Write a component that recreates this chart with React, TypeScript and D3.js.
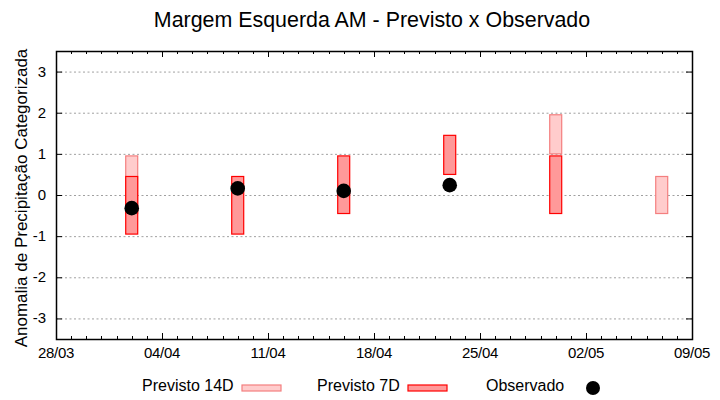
import { useRef, useEffect } from "react";
import * as d3 from "d3";

// ── Data ──────────────────────────────────────────────────────────────────────

const DATES = ["2025-04-02", "2025-04-09", "2025-04-16", "2025-04-23", "2025-04-30", "2025-05-07"];

// Previsto 14D range (low, high); null when not shown
const P14_LOW: (number | null)[] = [-0.45, null, null, null, 1.0, -0.45];
const P14_HIGH: (number | null)[] = [0.95, null, null, null, 1.95, 0.45];

// Previsto 7D range
const P7_LOW: (number | null)[] = [-0.95, -0.95, -0.45, 0.5, -0.45, null];
const P7_HIGH: (number | null)[] = [0.45, 0.45, 0.95, 1.45, 0.95, null];

// Observado
const OBS: (number | null)[] = [-0.32, 0.16, 0.1, 0.24, null, null];

const X_DOMAIN = ["2025-03-28", "2025-05-09"];
const Y_TICKS = [-3, -2, -1, 0, 1, 2, 3];

const TITLE = "Margem Esquerda AM - Previsto x Observado";
const Y_LABEL = "Anomalia de Precipitação Categorizada";
const LEGEND = ["Previsto 14D", "Previsto 7D", "Observado"];

// ── Constants ─────────────────────────────────────────────────────────────────

const W = 720;
const H = 400;
const PLOT = { left: 56, right: 692, top: 51, bottom: 339 };
const FONT = "'Liberation Sans', Arial, sans-serif";

const C14 = { fill: "#ffcccc", stroke: "#f47f7f" };
const C7 = { fill: "#ff9999", stroke: "#ff0000" };

const parse = d3.utcParse("%Y-%m-%d");

function render(svg: SVGSVGElement): void {
  const root = d3.select(svg);
  root.selectAll("*").remove();

  const x = d3
    .scaleUtc()
    .domain(X_DOMAIN.map((d) => parse(d)!))
    .range([PLOT.left, PLOT.right]);
  const y = d3.scaleLinear().domain([-3.5, 3.5]).range([PLOT.bottom, PLOT.top]);

  const days = d3.utcDay.range(x.domain()[0], d3.utcDay.offset(x.domain()[1], 1));
  const majors = days.filter((_, i) => i % 7 === 0);
  const fmt = d3.utcFormat("%d/%m");

  // Grid lines
  root
    .append("g")
    .selectAll("line")
    .data(Y_TICKS)
    .join("line")
    .attr("x1", PLOT.left)
    .attr("x2", PLOT.right)
    .attr("y1", (d) => y(d) + 0.5)
    .attr("y2", (d) => y(d) + 0.5)
    .attr("stroke", "#a0a0a0")
    .attr("stroke-width", 1)
    .attr("stroke-dasharray", "2,2.5");

  // Ticks (inward, mirrored)
  const tg = root.append("g").attr("stroke", "#000").attr("stroke-width", 1);
  days.forEach((d, i) => {
    const len = i % 7 === 0 ? 6 : 3;
    const xx = Math.round(x(d)) + 0.5;
    tg.append("line").attr("x1", xx).attr("x2", xx).attr("y1", PLOT.bottom).attr("y2", PLOT.bottom - len);
    tg.append("line").attr("x1", xx).attr("x2", xx).attr("y1", PLOT.top).attr("y2", PLOT.top + len);
  });
  Y_TICKS.forEach((v) => {
    const yy = y(v) + 0.5;
    tg.append("line").attr("x1", PLOT.left).attr("x2", PLOT.left + 6).attr("y1", yy).attr("y2", yy);
    tg.append("line").attr("x1", PLOT.right).attr("x2", PLOT.right - 6).attr("y1", yy).attr("y2", yy);
  });

  // Tick labels
  root
    .append("g")
    .selectAll("text")
    .data(majors)
    .join("text")
    .attr("x", (d) => x(d))
    .attr("y", PLOT.bottom + 19)
    .attr("text-anchor", "middle")
    .attr("font-family", FONT)
    .attr("font-size", 15)
    .attr("letter-spacing", -0.3)
    .text((d) => fmt(d));

  root
    .append("g")
    .selectAll("text")
    .data(Y_TICKS)
    .join("text")
    .attr("x", PLOT.left - 10)
    .attr("y", (d) => y(d) + 5)
    .attr("text-anchor", "end")
    .attr("font-family", FONT)
    .attr("font-size", 15)
    .text((d) => String(d));

  const bw = x(d3.utcHour.offset(x.domain()[0], 19)) - x(x.domain()[0]);

  // Previsto 14D
  DATES.forEach((ds, i) => {
    const lo = P14_LOW[i];
    const hi = P14_HIGH[i];
    if (lo === null || hi === null) return;
    const cx = x(parse(ds)!);
    root
      .append("rect")
      .attr("x", cx - bw / 2)
      .attr("y", y(hi))
      .attr("width", bw)
      .attr("height", y(lo) - y(hi))
      .attr("fill", C14.fill)
      .attr("stroke", C14.stroke)
      .attr("stroke-width", 1.2);
  });

  // Previsto 7D
  DATES.forEach((ds, i) => {
    const lo = P7_LOW[i];
    const hi = P7_HIGH[i];
    if (lo === null || hi === null) return;
    const cx = x(parse(ds)!);
    root
      .append("rect")
      .attr("x", cx - bw / 2)
      .attr("y", y(hi))
      .attr("width", bw)
      .attr("height", y(lo) - y(hi))
      .attr("fill", C7.fill)
      .attr("stroke", C7.stroke)
      .attr("stroke-width", 1.2);
  });

  // Observado
  DATES.forEach((ds, i) => {
    const v = OBS[i];
    if (v === null) return;
    root
      .append("circle")
      .attr("cx", x(parse(ds)!))
      .attr("cy", y(v))
      .attr("r", 7.3)
      .attr("fill", "#000");
  });

  // Border
  root
    .append("rect")
    .attr("x", PLOT.left + 0.5)
    .attr("y", PLOT.top + 0.5)
    .attr("width", PLOT.right - PLOT.left)
    .attr("height", PLOT.bottom - PLOT.top)
    .attr("fill", "none")
    .attr("stroke", "#000")
    .attr("stroke-width", 1.5);

  // Title and axis label
  root
    .append("text")
    .attr("x", 372)
    .attr("y", 27)
    .attr("text-anchor", "middle")
    .attr("font-family", FONT)
    .attr("font-size", 21.4)
    .text(TITLE);

  root
    .append("text")
    .attr("transform", `translate(27,${(PLOT.top + PLOT.bottom) / 2 + 3}) rotate(-90)`)
    .attr("text-anchor", "middle")
    .attr("font-family", FONT)
    .attr("font-size", 17)
    .text(Y_LABEL);

  // Legend
  const lg = root.append("g").attr("font-family", FONT).attr("font-size", 16);
  const ly = 391;
  lg.append("text").attr("x", 142).attr("y", ly).text(LEGEND[0]);
  lg.append("rect").attr("x", 242).attr("y", 385).attr("width", 39).attr("height", 6)
    .attr("fill", C14.fill).attr("stroke", C14.stroke).attr("stroke-width", 1.2);
  lg.append("text").attr("x", 317).attr("y", ly).text(LEGEND[1]);
  lg.append("rect").attr("x", 408).attr("y", 385).attr("width", 39).attr("height", 6)
    .attr("fill", C7.fill).attr("stroke", C7.stroke).attr("stroke-width", 1.2);
  lg.append("text").attr("x", 486).attr("y", ly).text(LEGEND[2]);
  lg.append("circle").attr("cx", 593).attr("cy", 388).attr("r", 7).attr("fill", "#000");
}

// ── Component ─────────────────────────────────────────────────────────────────

export default function App() {
  const svgRef = useRef<SVGSVGElement>(null);

  useEffect(() => {
    document.body.style.margin = "0";
    if (svgRef.current) render(svgRef.current);
  }, []);

  return (
    <svg
      ref={svgRef}
      width={W}
      height={H}
      viewBox={`0 0 ${W} ${H}`}
      style={{ display: "block", background: "#fff" }}
    />
  );
}
